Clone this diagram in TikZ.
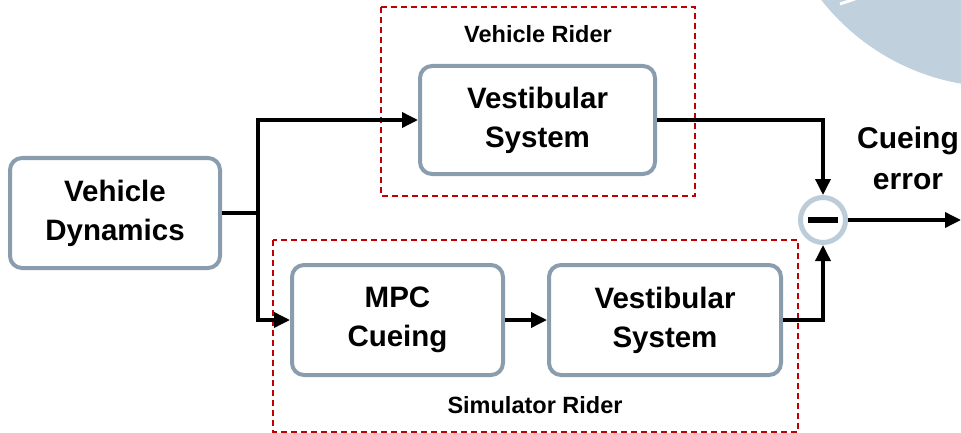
\documentclass[tikz,border=0pt]{standalone}
\usepackage{fontspec}
\setmainfont{Liberation Sans}
\usetikzlibrary{arrows.meta}
\definecolor{boxc}{HTML}{8A9DAE}
\definecolor{bgc}{HTML}{C0D0DC}
\definecolor{sumc}{HTML}{BCCCD8}
\definecolor{redd}{HTML}{C00000}
\tikzset{
  blk/.style={draw=boxc, line width=4pt, rounded corners=12pt, fill=white,
    align=center, inner sep=0pt, font=\bfseries\fontsize{29.5}{39}\selectfont},
  grp/.style={draw=redd, line width=1.5pt, dash pattern=on 6pt off 4pt},
  grplabel/.style={font=\bfseries\fontsize{23.5}{28}\selectfont, inner sep=0pt},
  conn/.style={line width=3.5pt, -{Triangle[length=16pt,width=15pt]}},
  plain/.style={line width=3.5pt},
}
\begin{document}
\begin{tikzpicture}[x=1pt,y=-1pt]
\useasboundingbox (0,0) rectangle (961,433);
\begin{scope}
  \clip (0,0) rectangle (961,433);
  \fill[bgc] (1000,-140) circle[radius=227pt];
  \draw[white, line width=3pt] (840,4) -- (855,-1);
\end{scope}
% group frames
\draw[grp] (381,7) rectangle (695,196);
\draw[grp] (273,240) rectangle (798,432);
\node[grplabel] (vrlab) at (538,34) {Vehicle Rider};
\node[grplabel] (srlab) at (535,405) {Simulator Rider};
% blocks
\node[blk, minimum width=210pt, minimum height=110pt] (vd) at (115,213) {Vehicle\\Dynamics};
\node[blk, minimum width=235pt, minimum height=108pt] (vr) at (537.5,120) {Vestibular\\System};
\node[blk, minimum width=211pt, minimum height=110pt] (mpc) at (397.5,320) {MPC\\Cueing};
\node[blk, minimum width=232pt, minimum height=110pt] (vs) at (665,320) {Vestibular\\System};
\node[draw=sumc, line width=5pt, circle, minimum size=45pt, inner sep=0pt, fill=white] (sum) at (823,220) {};
\fill (sum.center) ++(-15,-3) rectangle ++(30,6);
\coordinate (j) at (258,213);
\coordinate (out) at (961,220);
\node[font=\bfseries\fontsize{30}{41}\selectfont, align=center, inner sep=0pt] (err) at (908,158) {Cueing\\error};
% connectors
\draw[plain] (vd.east) -- (j);
\draw[conn] (j) |- (vr.west);
\draw[conn] (j) |- (mpc.west);
\draw[conn] (mpc.east) -- (vs.west);
\draw[conn] (vr.east) -| (sum.north);
\draw[conn] (vs.east) -| (sum.south);
\draw[conn] (sum.east) -- (out);
\end{tikzpicture}
\end{document}
